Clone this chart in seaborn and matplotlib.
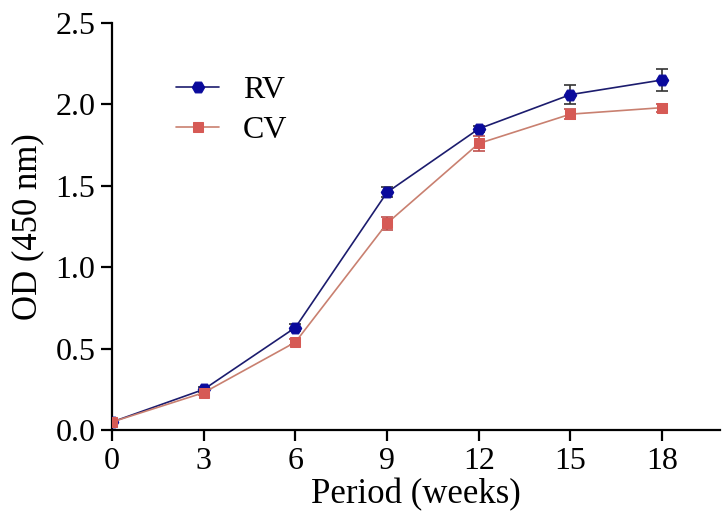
import matplotlib
matplotlib.use("Agg")
import matplotlib.pyplot as plt
import seaborn as sns
import pandas as pd

weeks = [0, 3, 6, 9, 12, 15, 18]
rv = [0.05, 0.25, 0.63, 1.46, 1.85, 2.06, 2.15]
rv_err = [0.01, 0.015, 0.02, 0.03, 0.02, 0.06, 0.07]
cv = [0.05, 0.23, 0.54, 1.27, 1.76, 1.94, 1.98]
cv_err = [0.01, 0.015, 0.02, 0.04, 0.045, 0.03, 0.025]
series = ["RV", "CV"]
xticks = [0, 3, 6, 9, 12, 15, 18]
yticks = [0.0, 0.5, 1.0, 1.5, 2.0, 2.5]

sns.set_theme(style="ticks")
plt.rcParams['font.family'] = ['Liberation Serif', 'DejaVu Serif']
plt.rcParams['text.color'] = 'black'
plt.rcParams['axes.labelcolor'] = 'black'

df = pd.DataFrame({
    "week": weeks * 2,
    "od": rv + cv,
    "group": [series[0]] * len(weeks) + [series[1]] * len(weeks),
})

fig = plt.figure(figsize=(7.23, 5.22), dpi=100)
ax = fig.add_axes([0.155, 0.176, 0.841, 0.780])

line_colors = {"RV": "#1c1c6e", "CV": "#c98070"}
marker_colors = {"RV": "#0a0a9c", "CV": "#d65a55"}
markers = {"RV": "H", "CV": "s"}
sizes = {"RV": 9, "CV": 7}

for name, vals, errs in [("RV", rv, rv_err), ("CV", cv, cv_err)]:
    sub = df[df["group"] == name]
    sns.lineplot(data=sub, x="week", y="od", ax=ax, color=line_colors[name],
                 lw=1.2, marker=markers[name], markersize=sizes[name],
                 markerfacecolor=marker_colors[name], markeredgecolor=marker_colors[name],
                 label=name, zorder=3)
    ax.errorbar(weeks, vals, yerr=errs, fmt="none", ecolor="#333333" if name == "RV" else "#c0504d",
                elinewidth=1.2, capsize=4, capthick=1.2, zorder=2)

ax.set_xlim(0, 19.9)
ax.set_ylim(0, 2.5)
ax.set_xticks(xticks)
ax.set_yticks(yticks)
ax.set_yticklabels([f"{v:.1f}" for v in yticks])
ax.tick_params(axis="both", labelsize=23, direction="out", length=8, width=1.6,
               colors="black", pad=4)
ax.set_xlabel("Period (weeks)", fontsize=25, labelpad=2)
ax.set_ylabel("OD (450 nm)", fontsize=25, labelpad=8)
for s in ["left", "bottom"]:
    ax.spines[s].set_linewidth(1.6)
    ax.spines[s].set_color("black")
sns.despine(ax=ax)

leg = ax.legend(loc="upper left", bbox_to_anchor=(0.058, 0.942), frameon=False,
                fontsize=23, handlelength=1.35, handletextpad=0.75, labelspacing=0.35)

fig.savefig("out.png", dpi=100)
